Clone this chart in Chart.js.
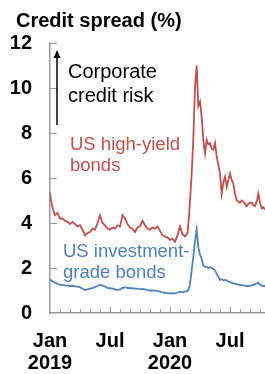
<!DOCTYPE html>
<html>
<head>
<meta charset="utf-8">
<script src="https://cdn.jsdelivr.net/npm/chart.js@4/dist/chart.umd.min.js"></script>
<style>
html,body{margin:0;padding:0;background:#fff;}
#c{display:block;}
</style>
</head>
<body>
<canvas id="c" width="265" height="374"></canvas>
<script>
// months since Jan 2019
const months = [0,0.1,0.3,0.5,0.75,1,1.25,1.5,1.75,2,2.25,2.5,2.75,3,3.25,3.5,3.75,4,4.25,4.5,4.75,5,5.25,5.5,5.75,6,6.25,6.5,6.75,7,7.25,7.5,7.75,8,8.25,8.5,8.75,9,9.25,9.5,9.75,10,10.25,10.5,10.75,11,11.25,11.5,11.75,12,12.25,12.5,12.75,13,13.25,13.5,13.75,13.9,14,14.17,14.33,14.5,14.67,14.83,15,15.17,15.33,15.5,15.67,15.83,16,16.17,16.33,16.5,16.67,16.83,17,17.17,17.33,17.5,17.67,17.83,18,18.17,18.33,18.5,18.67,18.83,19,19.17,19.33,19.5,19.67,19.83,20,20.17,20.33,20.5,20.67,20.83,21,21.17,21.33,21.5];
const highYield = [5.35,5.0,4.6,4.35,4.45,4.2,4.2,4.1,4.05,3.95,4.05,3.95,3.85,3.9,3.7,3.45,3.55,3.6,3.75,3.7,4.0,4.35,4.0,3.9,3.75,3.7,3.8,3.75,3.9,3.85,4.35,4.2,3.95,3.8,3.75,3.6,3.8,3.85,4.1,3.9,3.75,3.7,3.8,3.75,3.85,3.65,3.45,3.4,3.35,3.25,3.3,3.17,3.45,3.85,3.5,3.4,3.55,4.3,5.0,6.2,7.7,10.05,11.0,9.2,9.4,8.7,7.7,7.1,7.7,7.5,7.55,7.3,7.25,7.55,6.95,6.6,6.2,5.3,5.8,6.05,5.6,5.9,6.2,5.9,5.75,5.3,5.0,4.95,4.9,5.0,4.95,4.85,4.75,4.85,4.9,4.9,4.8,4.75,4.95,5.3,4.9,4.65,4.7,4.6];
const investmentGrade = [1.5,1.45,1.4,1.35,1.3,1.25,1.25,1.23,1.22,1.2,1.2,1.18,1.17,1.15,1.08,1.02,1.05,1.08,1.1,1.15,1.2,1.25,1.22,1.18,1.12,1.1,1.08,1.05,1.02,1.05,1.12,1.14,1.12,1.1,1.1,1.08,1.08,1.05,1.07,1.05,1.02,1.0,1.0,0.99,0.98,0.95,0.92,0.9,0.88,0.87,0.88,0.87,0.9,0.95,0.93,0.95,0.97,1.1,1.3,1.9,2.5,3.2,3.7,2.9,2.6,2.4,2.1,2.05,2.05,2.0,2.03,2.0,1.95,1.9,1.75,1.6,1.47,1.5,1.45,1.47,1.45,1.4,1.38,1.35,1.32,1.3,1.28,1.26,1.25,1.24,1.23,1.22,1.2,1.2,1.22,1.22,1.25,1.28,1.32,1.35,1.25,1.22,1.2,1.2];
const xTickValues = [0, 6, 12, 18];
const xTickLabels = [["Jan","2019"],["Jul"],["Jan","2020"],["Jul"]];
const yTicks = [0,2,4,6,8,10,12];
const seriesNames = ["US high-yield bonds","US investment-grade bonds"];

const RED = '#c0504d', BLUE = '#4f81bd', AXIS = '#9a9a9a';
const FONT = "'Liberation Sans', Arial, sans-serif";

const hyData = months.map((m,i)=>({x:m,y:highYield[i]}));
const igData = months.map((m,i)=>({x:m,y:investmentGrade[i]}));

const decor = {
  id:'decor',
  afterDraw(chart){
    const ctx = chart.ctx, xs = chart.scales.x, ys = chart.scales.y;
    const bottom = ys.getPixelForValue(0), left = xs.getPixelForValue(0);
    ctx.save();
    ctx.strokeStyle = AXIS; ctx.lineWidth = 1;
    // inward monthly ticks
    for(let m=1;m<=21;m++){
      const px = Math.round(xs.getPixelForValue(m))+0.5;
      const len = (m%6===0)?6:4;
      ctx.beginPath(); ctx.moveTo(px,bottom); ctx.lineTo(px,bottom-len); ctx.stroke();
    }
    for(const v of yTicks){ if(v===0) continue;
      const py = Math.round(ys.getPixelForValue(v))+0.5;
      ctx.beginPath(); ctx.moveTo(left,py); ctx.lineTo(left+7,py); ctx.stroke();
    }
    // arrow
    ctx.strokeStyle='#000'; ctx.fillStyle='#000'; ctx.lineWidth=1.5;
    ctx.beginPath(); ctx.moveTo(57,125); ctx.lineTo(57,57); ctx.stroke();
    ctx.beginPath(); ctx.moveTo(57,50); ctx.lineTo(53.5,58); ctx.lineTo(60.5,58); ctx.closePath(); ctx.fill();
    // title
    ctx.textBaseline='alphabetic'; ctx.textAlign='left';
    ctx.font = "bold 20px "+FONT; ctx.fillStyle='#000';
    ctx.fillText("Credit spread (%)", 16, 27);
    // annotations
    ctx.font = "20px "+FONT;
    ctx.fillText("Corporate", 68, 78);
    ctx.fillText("credit risk", 68, 102);
    ctx.font = "18.5px "+FONT; ctx.fillStyle=RED;
    ctx.fillText("US high-yield", 70, 150);
    ctx.fillText("bonds", 70, 171);
    ctx.fillStyle=BLUE;
    ctx.fillText("US investment-", 63, 257);
    ctx.fillText("grade bonds", 63, 278);
    ctx.restore();
  }
};

new Chart(document.getElementById('c'), {
  type:'line',
  data:{datasets:[
    {label:seriesNames[0], data:hyData, borderColor:RED, borderWidth:1.8, pointRadius:0, tension:0, fill:false},
    {label:seriesNames[1], data:igData, borderColor:BLUE, borderWidth:1.8, pointRadius:0, tension:0, fill:false}
  ]},
  options:{
    responsive:false, animation:false, devicePixelRatio:1,
    layout:{padding:{top:43,right:0,left:0,bottom:0}},
    plugins:{legend:{display:false}, tooltip:{enabled:false}, title:{display:false}},
    scales:{
      x:{type:'linear', min:0, max:21.5,
        afterFit(s){ s.height = 61; },
        afterBuildTicks(s){ s.ticks = xTickValues.map(v=>({value:v})); },
        ticks:{includeBounds:false, autoSkip:false, maxRotation:0, padding:17, color:'#000',
          font:{family:FONT, size:20, weight:'bold', lineHeight:1.1},
          callback(v){ const i = xTickValues.indexOf(v); return i>=0 ? xTickLabels[i] : ''; }},
        grid:{display:false, drawTicks:false},
        border:{display:true, color:AXIS, width:1.5}
      },
      y:{min:0, max:12,
        afterFit(s){ s.width = 50; },
        afterBuildTicks(s){ s.ticks = yTicks.map(v=>({value:v})); },
        ticks:{padding:18, color:'#000', font:{family:FONT, size:20, weight:'bold'}},
        grid:{display:false, drawTicks:false},
        border:{display:true, color:AXIS, width:1.5}
      }
    }
  },
  plugins:[decor]
});
</script>
</body>
</html>
